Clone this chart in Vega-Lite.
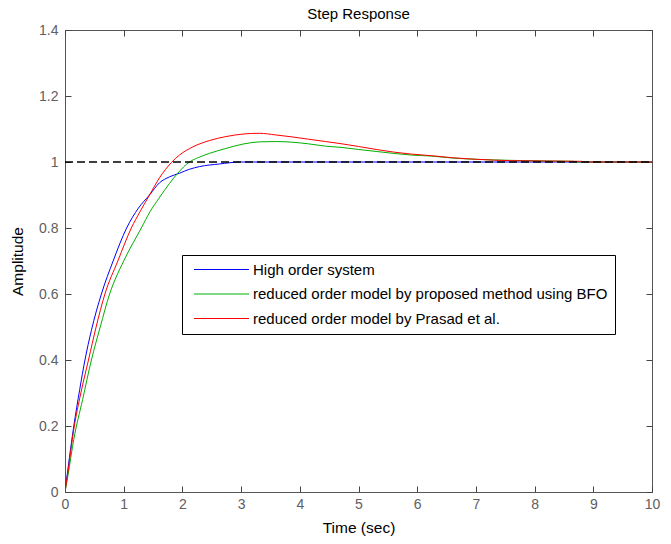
{
  "$schema": "https://vega.github.io/schema/vega-lite/v6.json",
  "width": 587,
  "height": 462,
  "autosize": {"type": "none"},
  "padding": {"left": 65, "top": 30, "right": 19, "bottom": 52},
  "background": "white",
  "config": {
    "font": "Liberation Sans",
    "view": {"stroke": "#555555", "strokeWidth": 1}
  },
  "title": {"text": "Step Response", "fontSize": 15, "fontWeight": "normal", "color": "black", "offset": 1},
  "datasets": {
    "curves": [
      {"s": "High order system", "t": 0, "v": 0},
      {"s": "High order system", "t": 0.05, "v": 0.07},
      {"s": "High order system", "t": 0.15, "v": 0.2},
      {"s": "High order system", "t": 0.25, "v": 0.31},
      {"s": "High order system", "t": 0.34, "v": 0.4},
      {"s": "High order system", "t": 0.45, "v": 0.49},
      {"s": "High order system", "t": 0.62, "v": 0.6},
      {"s": "High order system", "t": 0.82, "v": 0.7},
      {"s": "High order system", "t": 1.05, "v": 0.8},
      {"s": "High order system", "t": 1.25, "v": 0.86},
      {"s": "High order system", "t": 1.44, "v": 0.9},
      {"s": "High order system", "t": 1.61, "v": 0.937},
      {"s": "High order system", "t": 1.78, "v": 0.955},
      {"s": "High order system", "t": 1.95, "v": 0.966},
      {"s": "High order system", "t": 2.12, "v": 0.978},
      {"s": "High order system", "t": 2.29, "v": 0.986},
      {"s": "High order system", "t": 2.63, "v": 0.994},
      {"s": "High order system", "t": 2.99, "v": 1.0},
      {"s": "High order system", "t": 10, "v": 1.0},
      {"s": "reduced order model by proposed method using BFO", "t": 0, "v": 0},
      {"s": "reduced order model by proposed method using BFO", "t": 0.05, "v": 0.05},
      {"s": "reduced order model by proposed method using BFO", "t": 0.15, "v": 0.16},
      {"s": "reduced order model by proposed method using BFO", "t": 0.3, "v": 0.28},
      {"s": "reduced order model by proposed method using BFO", "t": 0.45, "v": 0.4},
      {"s": "reduced order model by proposed method using BFO", "t": 0.6, "v": 0.5},
      {"s": "reduced order model by proposed method using BFO", "t": 0.76, "v": 0.6},
      {"s": "reduced order model by proposed method using BFO", "t": 1.0, "v": 0.7},
      {"s": "reduced order model by proposed method using BFO", "t": 1.3, "v": 0.8},
      {"s": "reduced order model by proposed method using BFO", "t": 1.45, "v": 0.85},
      {"s": "reduced order model by proposed method using BFO", "t": 1.6, "v": 0.89},
      {"s": "reduced order model by proposed method using BFO", "t": 1.78, "v": 0.935},
      {"s": "reduced order model by proposed method using BFO", "t": 1.92, "v": 0.966},
      {"s": "reduced order model by proposed method using BFO", "t": 2.12, "v": 1.0},
      {"s": "reduced order model by proposed method using BFO", "t": 2.28, "v": 1.014},
      {"s": "reduced order model by proposed method using BFO", "t": 2.46, "v": 1.026},
      {"s": "reduced order model by proposed method using BFO", "t": 2.74, "v": 1.041},
      {"s": "reduced order model by proposed method using BFO", "t": 3.05, "v": 1.055},
      {"s": "reduced order model by proposed method using BFO", "t": 3.31, "v": 1.061},
      {"s": "reduced order model by proposed method using BFO", "t": 3.59, "v": 1.062},
      {"s": "reduced order model by proposed method using BFO", "t": 3.87, "v": 1.06},
      {"s": "reduced order model by proposed method using BFO", "t": 4.15, "v": 1.055},
      {"s": "reduced order model by proposed method using BFO", "t": 4.44, "v": 1.048},
      {"s": "reduced order model by proposed method using BFO", "t": 4.72, "v": 1.044},
      {"s": "reduced order model by proposed method using BFO", "t": 5.0, "v": 1.038},
      {"s": "reduced order model by proposed method using BFO", "t": 5.3, "v": 1.032},
      {"s": "reduced order model by proposed method using BFO", "t": 5.6, "v": 1.026},
      {"s": "reduced order model by proposed method using BFO", "t": 5.9, "v": 1.021},
      {"s": "reduced order model by proposed method using BFO", "t": 6.24, "v": 1.018},
      {"s": "reduced order model by proposed method using BFO", "t": 6.6, "v": 1.012},
      {"s": "reduced order model by proposed method using BFO", "t": 7.03, "v": 1.008},
      {"s": "reduced order model by proposed method using BFO", "t": 7.6, "v": 1.005},
      {"s": "reduced order model by proposed method using BFO", "t": 8.2, "v": 1.003},
      {"s": "reduced order model by proposed method using BFO", "t": 8.67, "v": 1.002},
      {"s": "reduced order model by proposed method using BFO", "t": 8.7, "v": 1.0},
      {"s": "reduced order model by proposed method using BFO", "t": 10, "v": 1.0},
      {"s": "reduced order model by Prasad et al.", "t": 0, "v": 0},
      {"s": "reduced order model by Prasad et al.", "t": 0.05, "v": 0.06},
      {"s": "reduced order model by Prasad et al.", "t": 0.15, "v": 0.19},
      {"s": "reduced order model by Prasad et al.", "t": 0.27, "v": 0.3},
      {"s": "reduced order model by Prasad et al.", "t": 0.4, "v": 0.4},
      {"s": "reduced order model by Prasad et al.", "t": 0.53, "v": 0.5},
      {"s": "reduced order model by Prasad et al.", "t": 0.68, "v": 0.6},
      {"s": "reduced order model by Prasad et al.", "t": 0.9, "v": 0.7},
      {"s": "reduced order model by Prasad et al.", "t": 1.13, "v": 0.8},
      {"s": "reduced order model by Prasad et al.", "t": 1.28, "v": 0.85},
      {"s": "reduced order model by Prasad et al.", "t": 1.44, "v": 0.9},
      {"s": "reduced order model by Prasad et al.", "t": 1.61, "v": 0.952},
      {"s": "reduced order model by Prasad et al.", "t": 1.81, "v": 0.998},
      {"s": "reduced order model by Prasad et al.", "t": 1.95, "v": 1.021},
      {"s": "reduced order model by Prasad et al.", "t": 2.18, "v": 1.046},
      {"s": "reduced order model by Prasad et al.", "t": 2.46, "v": 1.065},
      {"s": "reduced order model by Prasad et al.", "t": 2.74, "v": 1.077},
      {"s": "reduced order model by Prasad et al.", "t": 3.05, "v": 1.085},
      {"s": "reduced order model by Prasad et al.", "t": 3.31, "v": 1.087},
      {"s": "reduced order model by Prasad et al.", "t": 3.59, "v": 1.082},
      {"s": "reduced order model by Prasad et al.", "t": 3.87, "v": 1.076},
      {"s": "reduced order model by Prasad et al.", "t": 4.15, "v": 1.069},
      {"s": "reduced order model by Prasad et al.", "t": 4.44, "v": 1.062},
      {"s": "reduced order model by Prasad et al.", "t": 4.72, "v": 1.055},
      {"s": "reduced order model by Prasad et al.", "t": 5.0, "v": 1.047},
      {"s": "reduced order model by Prasad et al.", "t": 5.3, "v": 1.038},
      {"s": "reduced order model by Prasad et al.", "t": 5.6, "v": 1.03},
      {"s": "reduced order model by Prasad et al.", "t": 5.9, "v": 1.024},
      {"s": "reduced order model by Prasad et al.", "t": 6.24, "v": 1.019},
      {"s": "reduced order model by Prasad et al.", "t": 6.6, "v": 1.013},
      {"s": "reduced order model by Prasad et al.", "t": 7.03, "v": 1.008},
      {"s": "reduced order model by Prasad et al.", "t": 7.6, "v": 1.004},
      {"s": "reduced order model by Prasad et al.", "t": 8.2, "v": 1.003},
      {"s": "reduced order model by Prasad et al.", "t": 8.8, "v": 1.002},
      {"s": "reduced order model by Prasad et al.", "t": 8.85, "v": 1.0},
      {"s": "reduced order model by Prasad et al.", "t": 10, "v": 1.0}
    ],
    "ref": [
      {"t": 0, "v": 1},
      {"t": 10, "v": 1}
    ]
  },
  "layer": [
    {
      "data": {"name": "curves"},
      "mark": {"type": "line", "strokeWidth": 1, "clip": true, "interpolate": "monotone"},
      "encoding": {
        "x": {
          "field": "t", "type": "quantitative",
          "scale": {"domain": [0, 10], "nice": false},
          "axis": {
            "orient": "bottom",
            "values": [0, 1, 2, 3, 4, 5, 6, 7, 8, 9, 10],
            "grid": false, "domain": false, "ticks": false,
            "labelPadding": 5, "labelFontSize": 14, "labelColor": "#606060",
            "labelFlush": false,
            "title": "Time (sec)", "titleFontSize": 15.5, "titleFontWeight": "normal",
            "titleColor": "black", "titlePadding": 9
          }
        },
        "y": {
          "field": "v", "type": "quantitative",
          "scale": {"domain": [0, 1.4], "nice": false},
          "axis": {
            "orient": "left",
            "values": [0, 0.2, 0.4, 0.6, 0.8, 1, 1.2, 1.4],
            "format": "~g",
            "grid": false, "domain": false, "ticks": false,
            "labelPadding": 7, "labelFontSize": 14, "labelColor": "#606060",
            "labelFlush": false,
            "title": "Amplitude", "titleFontSize": 15.5, "titleFontWeight": "normal",
            "titleColor": "black", "titlePadding": 13
          }
        },
        "color": {
          "field": "s", "type": "nominal",
          "scale": {
            "domain": ["High order system", "reduced order model by proposed method using BFO", "reduced order model by Prasad et al."],
            "range": ["#0000ff", "#00b000", "#ff0000"]
          },
          "legend": {
            "orient": "none", "legendX": 117, "legendY": 225,
            "title": null,
            "symbolType": "M-5,0H5", "symbolSize": 121, "symbolStrokeWidth": 1,
            "symbolOffset": 25,
            "labelFontSize": 15, "labelColor": "black", "labelLimit": 0, "labelOffset": 24,
            "strokeColor": "black", "fillColor": "white",
            "padding": 7, "rowPadding": 8.5
          }
        }
      }
    },
    {
      "data": {"name": "ref"},
      "mark": {"type": "line", "color": "black", "strokeWidth": 1, "strokeDash": [8, 4]},
      "encoding": {
        "x": {
          "field": "t", "type": "quantitative",
          "axis": {
            "orient": "top", "offset": -6,
            "values": [0, 1, 2, 3, 4, 5, 6, 7, 8, 9, 10],
            "grid": false, "domain": false, "labels": false, "title": null,
            "tickSize": 6, "tickColor": "#444444", "tickWidth": 1
          }
        },
        "y": {
          "field": "v", "type": "quantitative",
          "axis": {
            "orient": "right", "offset": -6,
            "values": [0, 0.2, 0.4, 0.6, 0.8, 1, 1.2, 1.4],
            "grid": false, "domain": false, "labels": false, "title": null,
            "tickSize": 6, "tickColor": "#444444", "tickWidth": 1
          }
        }
      }
    },
    {
      "data": {"name": "ref"},
      "mark": {"type": "line", "color": "black", "strokeWidth": 1, "strokeDash": [8, 4]},
      "encoding": {
        "x": {
          "field": "t", "type": "quantitative",
          "axis": {
            "orient": "bottom", "offset": -6,
            "values": [0, 1, 2, 3, 4, 5, 6, 7, 8, 9, 10],
            "grid": false, "domain": false, "labels": false, "title": null,
            "tickSize": 6, "tickColor": "#444444", "tickWidth": 1
          }
        },
        "y": {
          "field": "v", "type": "quantitative",
          "axis": {
            "orient": "left", "offset": -6,
            "values": [0, 0.2, 0.4, 0.6, 0.8, 1, 1.2, 1.4],
            "grid": false, "domain": false, "labels": false, "title": null,
            "tickSize": 6, "tickColor": "#444444", "tickWidth": 1
          }
        }
      }
    }
  ],
  "resolve": {"axis": {"x": "independent", "y": "independent"}}
}
